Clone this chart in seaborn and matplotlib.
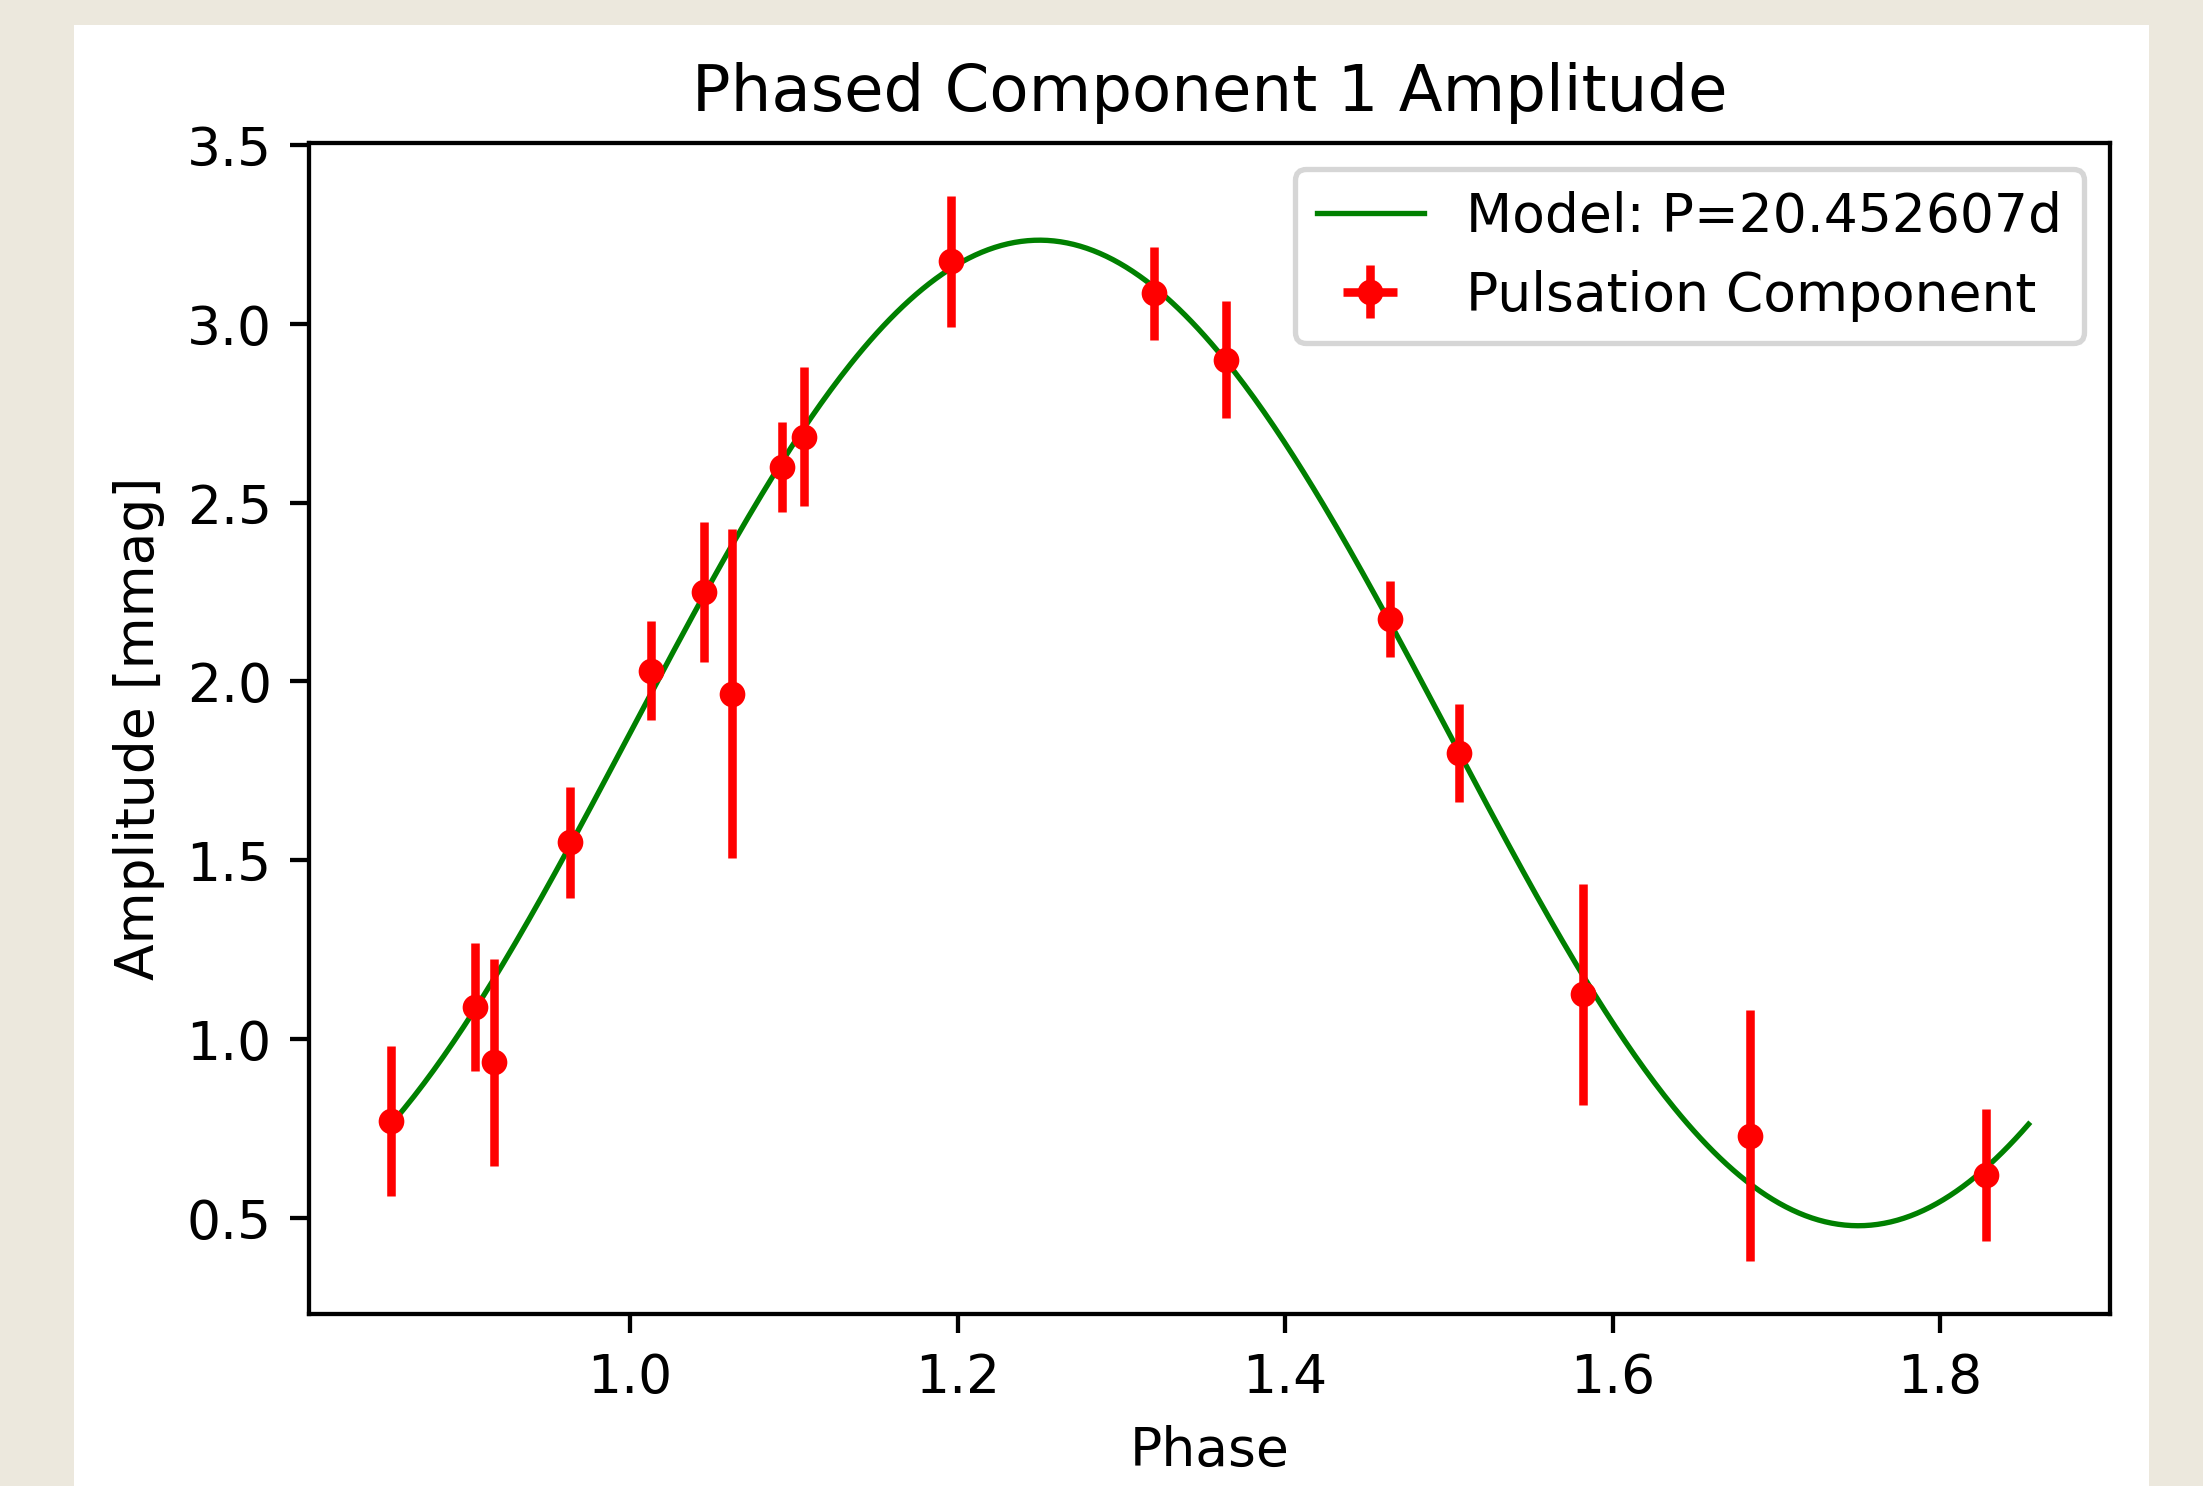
import numpy as np
import matplotlib
matplotlib.use('Agg')
import matplotlib.pyplot as plt
import seaborn as sns
from matplotlib.patches import Rectangle

# Phased pulsation component
phase = [0.854, 0.905, 0.917, 0.963, 1.013, 1.045, 1.062, 1.093, 1.106,
         1.196, 1.320, 1.364, 1.464, 1.506, 1.582, 1.684, 1.828]
amplitude = [0.77, 1.09, 0.935, 1.55, 2.03, 2.25, 1.965, 2.60, 2.685,
             3.175, 3.085, 2.90, 2.175, 1.80, 1.125, 0.73, 0.62]
amplitude_err = [0.21, 0.18, 0.29, 0.155, 0.138, 0.195, 0.46, 0.125, 0.195,
                 0.183, 0.13, 0.163, 0.106, 0.136, 0.31, 0.35, 0.185]

# Sinusoidal model parameters (fitted curve)
model_period = 20.452607
model_mean = 1.856
model_semi_amp = 1.378
model_peak_phase = 1.25
model_start = 0.854

model_phase = np.linspace(model_start, model_start + 1.0, 500)
model_amp = model_mean + model_semi_amp * np.cos(2 * np.pi * (model_phase - model_peak_phase))

dpi = 385
fig = plt.figure(figsize=(2203.4 / dpi, 1486.4 / dpi), dpi=dpi, facecolor='#ece8dd')

# White figure area inside the beige border
fig.patches.append(Rectangle((74 / 2203, 0), (2149 - 74) / 2203, (1486 - 25) / 1486,
                             transform=fig.transFigure, facecolor='white',
                             edgecolor='none', zorder=-10))

ax = fig.add_axes([0.1403, 0.1157, 0.8175, 0.7881])

# Model curve
sns.lineplot(x=model_phase, y=model_amp, color='green', linewidth=1.0,
             sort=False, label=f'Model: P={model_period}d', ax=ax)

# Measured points with error bars
ax.errorbar(phase, amplitude, xerr=0, yerr=amplitude_err, fmt='o', color='red',
            markersize=3.8, elinewidth=1.6, label='Pulsation Component')

ax.set_title('Phased Component 1 Amplitude', fontsize=12)
ax.set_xlabel('Phase', fontsize=10)
ax.set_ylabel('Amplitude [mmag]', fontsize=10)
ax.set_yticks([0.5, 1.0, 1.5, 2.0, 2.5, 3.0, 3.5])
ax.set_xticks([1.0, 1.2, 1.4, 1.6, 1.8])
ax.tick_params(labelsize=10)
ax.legend(loc='upper right', fontsize=10)

fig.savefig('out.png', dpi=dpi, facecolor=fig.get_facecolor())
